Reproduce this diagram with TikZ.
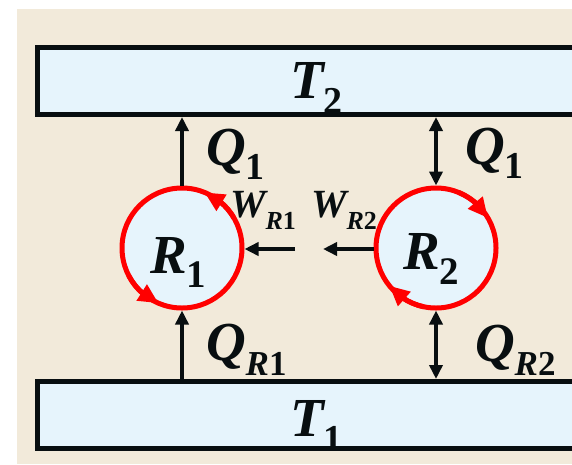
\documentclass[tikz,border=0pt]{standalone}
\usepackage{fontspec}
\setmainfont{Liberation Serif}[BoldFont={* Bold},ItalicFont={* Italic},BoldItalicFont={* Bold Italic}]
\usetikzlibrary{arrows.meta,bending}
\definecolor{bgbeige}{RGB}{242,234,218}
\definecolor{boxblue}{RGB}{230,244,252}
\definecolor{cycred}{RGB}{255,0,0}
\definecolor{inkblack}{RGB}{8,14,16}
\newcommand\bi[2]{{\fontsize{#1}{#1}\selectfont\bfseries\itshape #2}}
\newcommand\bu[2]{{\fontsize{#1}{#1}\selectfont\bfseries #2}}
\tikzset{
  reservoir/.style={draw=inkblack, fill=boxblue, line width=5pt, rectangle,
    minimum width=562.5pt, minimum height=67pt, inner sep=0pt, outer sep=2.5pt},
  engine/.style={draw=cycred, fill=boxblue, line width=5pt, circle,
    minimum size=120pt, inner sep=0pt, outer sep=2.5pt},
  lbl/.style={inner sep=0pt, outer sep=0pt, anchor=base west, text=inkblack},
  flow/.style={draw=inkblack, line width=3.5pt, -{Triangle[length=14pt,width=13pt]}},
  dflow/.style={draw=inkblack, line width=3.5pt, {Triangle[length=14pt,width=13pt]}-{Triangle[length=14pt,width=13pt]}},
  cyc/.style={draw=cycred, line width=5pt, -{Triangle[length=20pt,width=18pt]}}
}
\begin{document}
\begin{tikzpicture}[x=1pt,y=-1pt]
\clip (0,0) rectangle (572,464);
\fill[bgbeige] (17,9) rectangle (572,464);
% reservoirs
\node[reservoir] (T2) at (318.75,81) {};
\node[reservoir] (T1) at (318.75,415) {};
% engines
\node[engine] (R1) at (182,248) {};
\node[engine] (R2) at (436,248) {};
% cycle arrows (y axis points down, so angles are mirrored)
\draw[cyc] (R1.center) ++(-30:60) arc[start angle=-30, end angle=-68, radius=60];
\draw[cyc] (R1.center) ++(-207:60) arc[start angle=-207, end angle=-247, radius=60];
\draw[cyc] (R2.center) ++(-68:60) arc[start angle=-68, end angle=-30, radius=60];
\draw[cyc] (R2.center) ++(-258:60) arc[start angle=-258, end angle=-219, radius=60];
% heat flows
\draw[flow] (R1.north) -- (R1.north |- T2.south);
\draw[dflow] (R2.north) -- (R2.north |- T2.south);
\draw[flow] (R1.south |- T1.north) -- (R1.south);
\draw[dflow] (R2.south) -- (R2.south |- T1.north);
% work flows
\coordinate (w1) at (295,249);
\coordinate (w2) at (323,249);
\draw[flow] (w1) -- (w1 -| R1.east);
\draw[flow] (w2 -| R2.west) -- (w2);
% labels
\node[lbl] (lT2) at (290,98) {\bi{55}{T}\raisebox{-15pt}{\bu{38}{2}}};
\node[lbl] (lT1) at (290,436) {\bi{55}{T}\raisebox{-15pt}{\bu{38}{1}}};
\node[lbl] (lQ1a) at (206,165) {\bi{55}{Q}\raisebox{-14pt}{\bu{38}{1}}};
\node[lbl] (lQ1b) at (465,164) {\bi{55}{Q}\raisebox{-14pt}{\bu{38}{1}}};
\node[lbl] (lQR1) at (206,360) {\bi{55}{Q}\raisebox{-15pt}{\bi{35}{R}\bu{35}{1}}};
\node[lbl] (lQR2) at (475,361) {\bi{55}{Q}\raisebox{-14pt}{\bi{35}{R}\bu{35}{2}}};
\node[lbl] (lWR1) at (230,217) {\bi{40}{W}\raisebox{-12pt}{\bi{26}{R}\bu{26}{1}}};
\node[lbl] (lWR2) at (311,217) {\bi{40}{W}\raisebox{-12pt}{\bi{26}{R}\bu{26}{2}}};
\node[lbl] (lR1) at (150,273) {\bi{55}{R}\raisebox{-14pt}{\bu{39}{1}}};
\node[lbl] (lR2) at (403,269) {\bi{55}{R}\raisebox{-15pt}{\bu{39}{2}}};
\end{tikzpicture}
\end{document}
